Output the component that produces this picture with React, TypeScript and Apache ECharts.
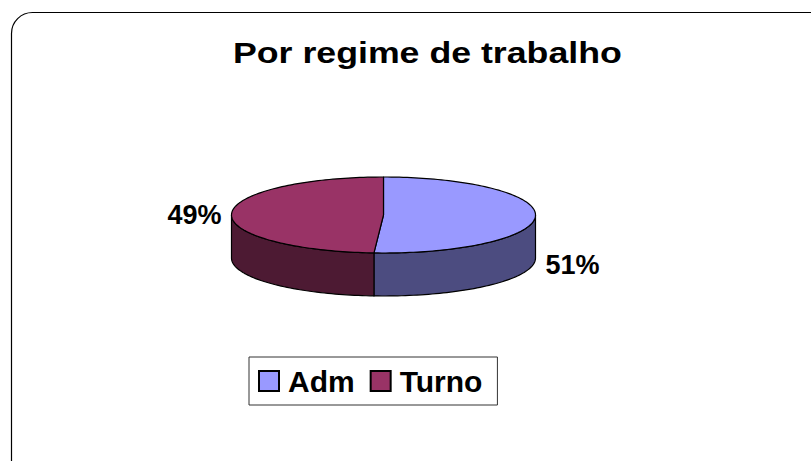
import React, { useEffect, useRef } from "react";
import * as echarts from "echarts";

const TITLE = "Por regime de trabalho";
const CATEGORIES = ["Adm", "Turno"];
const VALUES = [51, 49];
const TOP_COLORS = ["#9999FF", "#993366"];
const SIDE_COLORS = ["#4C4C80", "#4D1A33"];

const FONT = "'Liberation Sans', Arial, Helvetica, sans-serif";

// layout of the tilted pie (pixels)
const PIE = { cx: 383.5, cy: 215, rx: 152, ry: 38, depth: 43 };
// label placement per slice: horizontal gap from rim, vertical shift
const LABEL_LAYOUT = [
  { dx: 10, dy: 49 },
  { dx: -10, dy: 1 },
];

function pt(theta: number, dy = 0): number[] {
  return [PIE.cx + PIE.rx * Math.sin(theta), PIE.cy - PIE.ry * Math.cos(theta) + dy];
}

function arc(a0: number, a1: number, dy = 0): number[][] {
  const n = Math.max(2, Math.ceil(((a1 - a0) / (Math.PI * 2)) * 240));
  const out: number[][] = [];
  for (let i = 0; i <= n; i++) out.push(pt(a0 + ((a1 - a0) * i) / n, dy));
  return out;
}

function makeRenderItem(index: number) {
  return function (params: any, api: any) {
    const total = VALUES.reduce((s, v) => s + v, 0);
    let before = 0;
    for (let i = 0; i < index; i++) before += VALUES[i];
    const value = api.value(0);
    const a0 = (before / total) * Math.PI * 2;
    const a1 = ((before + value) / total) * Math.PI * 2;
    const children: any[] = [];
    const lo = Math.max(a0, Math.PI / 2);
    const hi = Math.min(a1, (Math.PI * 3) / 2);
    if (hi > lo) {
      const top = arc(lo, hi);
      const bottom = arc(lo, hi, PIE.depth).reverse();
      children.push({
        type: "polygon",
        shape: { points: top.concat(bottom) },
        style: { fill: SIDE_COLORS[index], stroke: "#000", lineWidth: 1.2, lineJoin: "round" },
      });
    }
    children.push({
      type: "polygon",
      shape: { points: [[PIE.cx, PIE.cy]].concat(arc(a0, a1)) },
      style: { fill: TOP_COLORS[index], stroke: "#000", lineWidth: 1.2, lineJoin: "round" },
    });
    const mid = (a0 + a1) / 2;
    const p = pt(mid);
    const lay = LABEL_LAYOUT[index];
    children.push({
      type: "text",
      style: {
        text: Math.round((value / total) * 100) + "%",
        x: p[0] + lay.dx,
        y: p[1] + lay.dy,
        fill: "#000",
        font: "bold 27px " + FONT,
        align: Math.sin(mid) >= 0 ? "left" : "right",
        verticalAlign: "middle",
      },
    });
    return { type: "group", children };
  };
}

export default function App() {
  const ref = useRef<HTMLDivElement>(null);
  useEffect(() => {
    document.body.style.margin = "0";
    const chart = echarts.init(ref.current!, null, { renderer: "svg" });
    chart.setOption({
      animation: false,
      backgroundColor: "#ffffff",
      legend: {
        data: CATEGORIES.map((c, i) => ({
          name: c,
          itemStyle: { color: TOP_COLORS[i], borderColor: "#000", borderWidth: 2 },
        })),
        left: 249,
        top: 357,
        orient: "horizontal",
        icon: "rect",
        itemWidth: 20,
        itemHeight: 20,
        itemGap: 15,
        padding: [9, 15, 9, 9],
        borderColor: "#333",
        borderWidth: 1,
        textStyle: { fontFamily: FONT, fontSize: 30, fontWeight: "bold", color: "#000", padding: [0, 0, 0, 4] },
      },
      graphic: [
        {
          type: "rect",
          z: -1,
          shape: { x: 11.5, y: 12.5, width: 840, height: 500, r: 21 },
          style: { fill: "none", stroke: "#000", lineWidth: 1.2 },
        },
        {
          type: "text",
          x: 233,
          y: 53,
          scaleX: 1.19,
          style: {
            text: TITLE,
            x: 0,
            y: 0,
            fill: "#000",
            font: "bold 30px " + FONT,
            align: "left",
            verticalAlign: "middle",
          },
        },
      ],
      series: CATEGORIES.map((c, i) => ({
        type: "custom",
        name: c,
        coordinateSystem: "none",
        itemStyle: { color: TOP_COLORS[i] },
        data: [[VALUES[i]]],
        renderItem: makeRenderItem(i),
      })),
    });
    return () => chart.dispose();
  }, []);
  return <div ref={ref} style={{ width: 811, height: 461 }} />;
}
